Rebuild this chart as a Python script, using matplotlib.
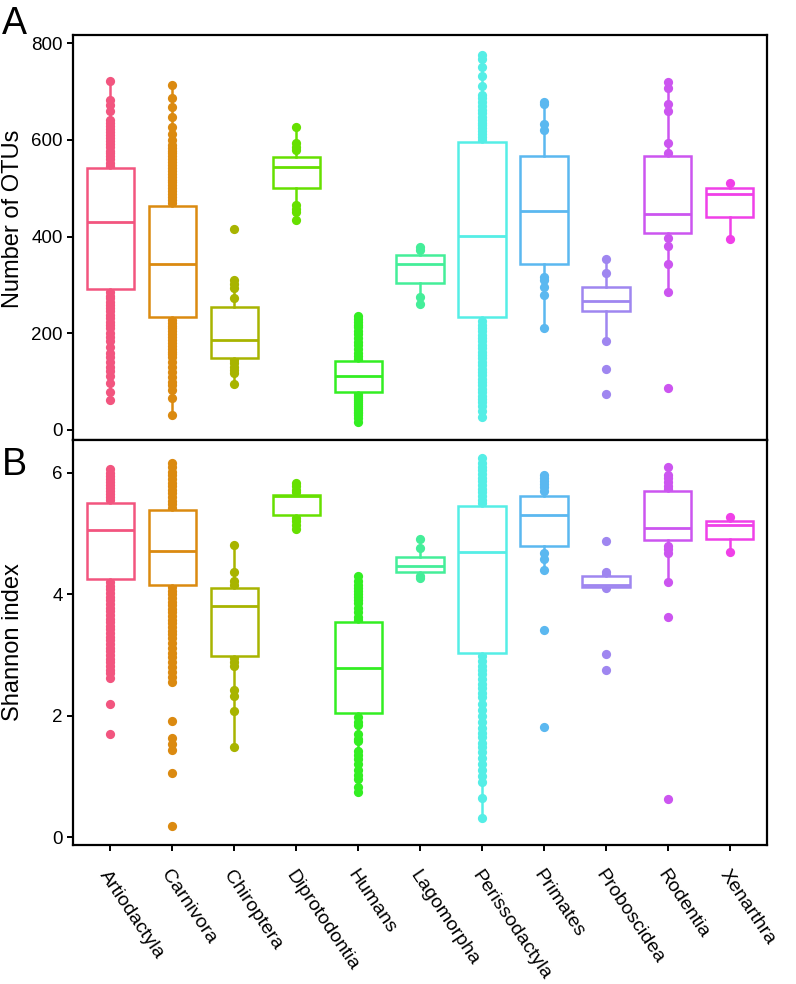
import matplotlib
matplotlib.use("Agg")
import matplotlib.pyplot as plt

plt.rcParams['font.family'] = ['Liberation Sans', 'DejaVu Sans']

categories = ['Artiodactyla', 'Carnivora', 'Chiroptera', 'Diprotodontia', 'Humans',
              'Lagomorpha', 'Perissodactyla', 'Primates', 'Proboscidea', 'Rodentia', 'Xenarthra']
colors = ['#F2557F', '#DB8A10', '#A8B400', '#66E000', '#33EE22', '#44EE99',
          '#55EEE6', '#5BB8F0', '#9F86F0', '#CC55F0', '#F040E8']

# box stats: whislo, q1, med, q3, whishi
otu_stats = [
    (62, 291, 431, 542, 722),
    (30, 234, 344, 464, 714),
    (95, 148, 186, 255, 310),
    (435, 501, 544, 564, 626),
    (17, 78, 112, 143, 236),
    (260, 303, 344, 361, 379),
    (26, 233, 402, 595, 775),
    (210, 344, 453, 567, 679),
    (183, 245, 267, 296, 354),
    (285, 407, 446, 566, 719),
    (394, 441, 489, 500, 511),
]
otu_points = [
    [547, 553, 560, 566, 572, 578, 585, 591, 597, 603, 610, 616, 622, 628, 635, 641, 660, 672, 683, 722,
     285, 278, 272, 265, 258, 252, 245, 238, 231, 224, 217, 210, 200, 192, 183, 172, 160, 150, 140,
     130, 122, 112, 97, 79, 62],
    [470, 476, 482, 488, 494, 500, 506, 512, 518, 524, 530, 536, 542, 548, 554, 560, 566, 572, 578,
     584, 590, 600, 612, 627, 648, 668, 686, 714,
     228, 222, 216, 210, 204, 198, 192, 186, 180, 174, 168, 162, 156, 150, 140, 130, 120, 110, 100,
     92, 83, 66, 30],
    [415, 310, 302, 294, 273, 145, 138, 130, 124, 118, 95],
    [626, 593, 586, 579, 465, 458, 451, 435],
    [236, 230, 224, 218, 212, 205, 198, 190, 182, 175, 168, 160, 153, 147,
     74, 70, 66, 62, 58, 54, 50, 46, 42, 38, 35, 30, 25, 17],
    [379, 372, 276, 260],
    [600, 606, 612, 618, 624, 630, 636, 642, 648, 655, 662, 670, 678, 686, 693, 712, 733, 751, 768, 775,
     225, 218, 211, 204, 197, 190, 183, 176, 169, 162, 155, 148, 141, 134, 127, 120, 113, 106, 99,
     92, 85, 78, 71, 64, 57, 50, 40, 26],
    [679, 674, 632, 620, 317, 310, 296, 279, 210],
    [354, 325, 183, 126, 74],
    [719, 708, 675, 659, 593, 573, 398, 381, 344, 285, 86],
    [511, 394],
]

shannon_stats = [
    (2.62, 4.25, 5.05, 5.51, 6.06),
    (2.55, 4.16, 4.71, 5.38, 6.16),
    (1.48, 2.98, 3.80, 4.11, 4.81),
    (5.07, 5.30, 5.62, 5.64, 5.84),
    (0.75, 2.04, 2.78, 3.54, 4.30),
    (4.26, 4.37, 4.47, 4.62, 4.76),
    (0.32, 3.04, 4.69, 5.46, 6.24),
    (4.40, 4.79, 5.31, 5.62, 5.97),
    (4.10, 4.12, 4.15, 4.30, 4.36),
    (4.20, 4.90, 5.09, 5.70, 6.10),
    (4.69, 4.91, 5.14, 5.21, 5.27),
]
shannon_points = [
    [5.55, 5.6, 5.65, 5.7, 5.75, 5.8, 5.85, 5.9, 5.95, 6.0, 6.06,
     4.2, 4.14, 4.08, 4.02, 3.96, 3.9, 3.84, 3.78, 3.72, 3.66, 3.6, 3.54, 3.48, 3.42, 3.36, 3.3,
     3.24, 3.18, 3.12, 3.06, 3.0, 2.94, 2.88, 2.82, 2.76, 2.7, 2.62, 2.20, 1.69],
    [5.42, 5.48, 5.54, 5.6, 5.66, 5.72, 5.78, 5.84, 5.9, 5.96, 6.02, 6.1, 6.16,
     4.12, 4.06, 4.0, 3.94, 3.88, 3.82, 3.76, 3.7, 3.64, 3.58, 3.52, 3.46, 3.4, 3.34, 3.28, 3.2,
     3.12, 3.04, 2.96, 2.88, 2.8, 2.72, 2.64, 2.55, 1.92, 1.63, 1.54, 1.43, 1.06, 0.18],
    [4.81, 4.36, 4.22, 4.16, 2.95, 2.88, 2.82, 2.42, 2.33, 2.07, 1.48],
    [5.84, 5.78, 5.72, 5.68, 5.26, 5.2, 5.14, 5.07],
    [4.30, 4.22, 4.15, 4.1, 4.05, 4.0, 3.95, 3.9, 3.85, 3.78, 3.7, 3.63, 3.58,
     1.98, 1.9, 1.85, 1.7, 1.62, 1.58, 1.42, 1.35, 1.28, 1.2, 1.1, 1.02, 0.95, 0.82, 0.75],
    [4.91, 4.76, 4.30, 4.26],
    [5.5, 5.56, 5.62, 5.68, 5.74, 5.8, 5.86, 5.92, 5.98, 6.04, 6.1, 6.16, 6.24,
     2.98, 2.9, 2.82, 2.75, 2.68, 2.6, 2.52, 2.45, 2.38, 2.3, 2.2, 2.1, 2.0, 1.9, 1.8, 1.72, 1.65,
     1.55, 1.48, 1.4, 1.3, 1.2, 1.1, 1.0, 0.9, 0.65, 0.32],
    [5.97, 5.92, 5.87, 5.82, 5.76, 5.7, 4.68, 4.58, 4.40, 3.41, 1.81],
    [4.87, 4.36, 4.32, 4.10, 3.02, 2.75],
    [6.10, 5.97, 5.92, 5.85, 5.78, 5.73, 4.79, 4.74, 4.68, 4.20, 3.62, 0.62],
    [5.27, 4.69],
]

otu_ticks = [0, 200, 400, 600, 800]
shannon_ticks = [0, 2, 4, 6]

positions = list(range(1, len(categories) + 1))

fig = plt.figure(figsize=(7.96, 9.84), dpi=100)
axA = fig.add_axes([0.0917, 0.5528, 0.872, 0.4116])
axB = fig.add_axes([0.0917, 0.1413, 0.872, 0.4115])


def draw_panel(ax, stats, points):
    # raw points first, white boxes on top hide the ones inside
    for pos, vals, col in zip(positions, points, colors):
        ax.scatter([pos] * len(vals), vals, s=44, color=col, zorder=2, linewidths=0)
    for pos, st, col in zip(positions, stats, colors):
        d = {'whislo': st[0], 'q1': st[1], 'med': st[2], 'q3': st[3], 'whishi': st[4], 'fliers': []}
        ax.bxp([d], positions=[pos], widths=0.76, patch_artist=True, showcaps=False,
               showfliers=False, manage_ticks=False,
               boxprops=dict(facecolor='white', edgecolor=col, linewidth=1.8),
               medianprops=dict(color=col, linewidth=2.0),
               whiskerprops=dict(color=col, linewidth=1.8),
               zorder=3)
    ax.set_xlim(0.4, len(categories) + 0.6)
    for sp in ax.spines.values():
        sp.set_linewidth(1.6)
        sp.set_color('black')
    ax.tick_params(axis='both', direction='out', length=4, width=1.4, colors='black',
                   labelsize=13.5)
    ax.set_xticks(positions)


draw_panel(axA, otu_stats, otu_points)
axA.set_ylim(-21, 817)
axA.set_yticks(otu_ticks)
axA.set_xticklabels([])
axA.set_ylabel('Number of OTUs', fontsize=17)
axA.yaxis.set_label_coords(-0.071, 0.545)

draw_panel(axB, shannon_stats, shannon_points)
axB.set_ylim(-0.13, 6.54)
axB.set_yticks(shannon_ticks)
axB.set_ylabel('Shannon index', fontsize=17)
axB.yaxis.set_label_coords(-0.071, 0.5)
axB.tick_params(axis='x', pad=12)
axB.set_xticklabels(categories, rotation=-56, ha='left', va='top', rotation_mode='anchor',
                    fontsize=14)

fig.text(0.002, 0.994, 'A', fontsize=27, va='top', ha='left')
fig.text(0.002, 0.546, 'B', fontsize=27, va='top', ha='left')

fig.savefig('out.png', dpi=100)
